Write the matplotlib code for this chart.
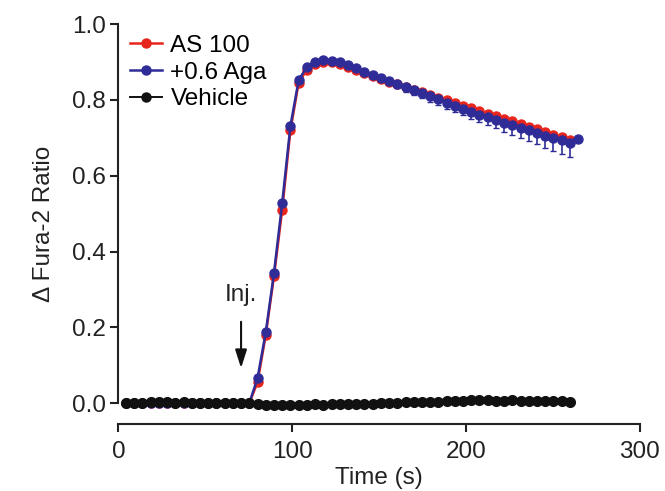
import numpy as np
import matplotlib
matplotlib.use("Agg")
import matplotlib.pyplot as plt
from matplotlib.lines import Line2D

plt.rcParams['font.family'] = ['Liberation Sans', 'DejaVu Sans']

# sampling times (s): first frame at 4.4 s, one frame every 4.73 s
t0 = 4.4
dt = 4.73
n_frames = 55

# AS 100 (red)
as100 = [0.0] * 16 + [
    0.055, 0.180, 0.335, 0.510, 0.720, 0.845, 0.880, 0.895, 0.900, 0.900,
    0.895, 0.888, 0.879, 0.871, 0.863, 0.855, 0.848, 0.841, 0.834, 0.827,
    0.820, 0.813, 0.806, 0.799, 0.792, 0.785, 0.778, 0.771, 0.764, 0.757,
    0.750, 0.743, 0.736, 0.729, 0.722, 0.715, 0.708, 0.701, 0.694,
]
as100_err = [0.0] * 16 + [0.004] * 15 + [0.006] * 24

# +0.6 Aga (blue), one extra frame at the end
aga = [0.0] * 16 + [
    0.066, 0.187, 0.343, 0.528, 0.731, 0.852, 0.887, 0.900, 0.905, 0.903,
    0.899, 0.892, 0.883, 0.874, 0.866, 0.857, 0.849, 0.841, 0.833, 0.825,
    0.817, 0.809, 0.801, 0.793, 0.785, 0.777, 0.769, 0.761, 0.754, 0.747,
    0.740, 0.733, 0.727, 0.720, 0.713, 0.706, 0.700, 0.693, 0.686, 0.698,
]
aga_err = [0.0] * 16 + [
    0.003, 0.003, 0.004, 0.004, 0.004, 0.005, 0.005, 0.005, 0.005, 0.006,
    0.006, 0.006, 0.007, 0.007, 0.008, 0.008, 0.009, 0.010, 0.011, 0.012,
    0.013, 0.014, 0.015, 0.016, 0.017, 0.018, 0.019, 0.020, 0.021, 0.022,
    0.024, 0.025, 0.027, 0.028, 0.030, 0.032, 0.034, 0.036, 0.038, 0.0,
]

# Vehicle (black)
vehicle = [
    0.000, 0.001, 0.001, 0.002, 0.002, 0.002, 0.001, 0.002, 0.001, 0.001,
    0.000, 0.000, 0.000, 0.000, 0.001, 0.000,
    -0.003, -0.005, -0.006, -0.005, -0.006, -0.004, -0.005, -0.003, -0.004,
    -0.003, -0.002, -0.003, -0.002, -0.001, -0.002,
    0.000, 0.001, 0.000, 0.002, 0.003, 0.002, 0.003, 0.004, 0.006, 0.005,
    0.006, 0.008, 0.007, 0.007, 0.006, 0.006, 0.007, 0.006, 0.006, 0.005,
    0.006, 0.005, 0.005, 0.004,
]

t = t0 + dt * np.arange(n_frames)
t_aga = t0 + dt * np.arange(n_frames + 1)

red = "#e8251c"
blue = "#2f2c98"
black = "#111111"
ink = "#222222"
fs = 17.5

fig = plt.figure(figsize=(6.65, 4.91), dpi=100)
ax = fig.add_axes([0.178, 0.1365, 0.784, 0.8145])

ax.errorbar(t, as100, yerr=as100_err, color=red, marker="o", ms=6.5, lw=1.8,
            elinewidth=1.2, capsize=2, zorder=2, clip_on=False)
ax.errorbar(t_aga, aga, yerr=[aga_err, [0] * len(aga_err)], color=blue, marker="o",
            ms=6.5, lw=1.8, elinewidth=1.2, capsize=2.5, zorder=3, clip_on=False)
ax.plot(t, vehicle, color=black, marker="o", ms=7, lw=1.4, zorder=4, clip_on=False)

# injection marker
ax.text(70.6, 0.284, "Inj.", ha="center", va="center", fontsize=fs, color=ink)
ax.annotate("", xy=(70.6, 0.085), xytext=(70.6, 0.222),
            arrowprops=dict(arrowstyle="-|>,head_length=1.1,head_width=0.35",
                            color=black, lw=1.5))

ax.set_xlim(0, 300)
ax.set_ylim(-0.055, 1.0)
ax.set_xticks([0, 100, 200, 300])
ax.set_yticks([0.0, 0.2, 0.4, 0.6, 0.8, 1.0])
ax.set_yticklabels(["0.0", "0.2", "0.4", "0.6", "0.8", "1.0"])
ax.spines["top"].set_visible(False)
ax.spines["right"].set_visible(False)
ax.spines["left"].set_bounds(0, 1.0)
ax.spines["left"].set_linewidth(1.5)
ax.spines["bottom"].set_linewidth(1.5)
ax.spines["left"].set_color(ink)
ax.spines["bottom"].set_color(ink)
ax.tick_params(direction="out", length=6, width=1.5, labelsize=fs, colors=ink)
ax.tick_params(axis="x", pad=6)
ax.tick_params(axis="y", pad=3)

ax.set_xlabel("Time (s)", fontsize=fs, color=ink, labelpad=3)
ax.set_ylabel("\u0394 Fura-2 Ratio", fontsize=fs, color=ink, labelpad=12)

handles = [
    Line2D([], [], color=red, marker="o", ms=6.5, lw=1.8),
    Line2D([], [], color=blue, marker="o", ms=6.5, lw=1.8),
    Line2D([], [], color=black, marker="o", ms=6.5, lw=1.4),
]
ax.legend(handles, ["AS 100", "+0.6 Aga", "Vehicle"], loc="upper left",
          bbox_to_anchor=(-0.005, 1.01), frameon=False, fontsize=fs,
          handlelength=1.3, handletextpad=0.35, labelspacing=0.2,
          borderaxespad=0.2)

fig.savefig("out.png", dpi=100)
